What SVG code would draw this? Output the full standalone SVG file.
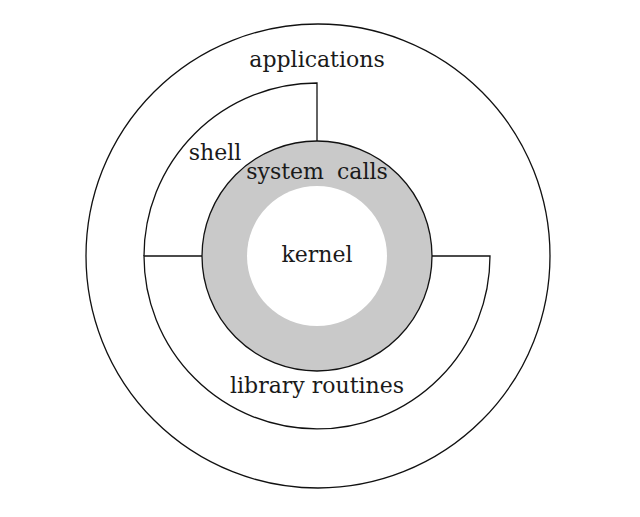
<svg xmlns="http://www.w3.org/2000/svg" width="640" height="517" viewBox="0 0 640 517">
<style>
.ln{fill:none;stroke:#111;stroke-width:1.3}
.t{font-family:"DejaVu Serif","Liberation Serif",serif;font-size:22px;fill:#1a1a1a}
</style>
<rect width="640" height="517" fill="#fff"/>
<g id="applications">
<circle class="ln" cx="318" cy="256" r="232"/>
<text class="t" x="317" y="67" text-anchor="middle">applications</text>
</g>
<g id="connectors">
<path class="ln" d="M144,256 A173,173 0 0 1 317,83 L317,141"/>
<path class="ln" d="M202,256 L144,256 A173,173 0 0 0 490,256 L432,256"/>
</g>
<g id="shell">
<text class="t" x="215" y="160" text-anchor="middle">shell</text>
</g>
<g id="library-routines">
<text class="t" x="317" y="393" text-anchor="middle">library routines</text>
</g>
<g id="system-calls">
<circle cx="317" cy="256" r="115" fill="#c9c9c9" stroke="#111" stroke-width="1.3"/>
<text class="t" x="317" y="179" text-anchor="middle" word-spacing="6">system calls</text>
</g>
<g id="kernel">
<circle cx="317" cy="256" r="70" fill="#fff"/>
<text class="t" x="317" y="262" text-anchor="middle">kernel</text>
</g>
</svg>
